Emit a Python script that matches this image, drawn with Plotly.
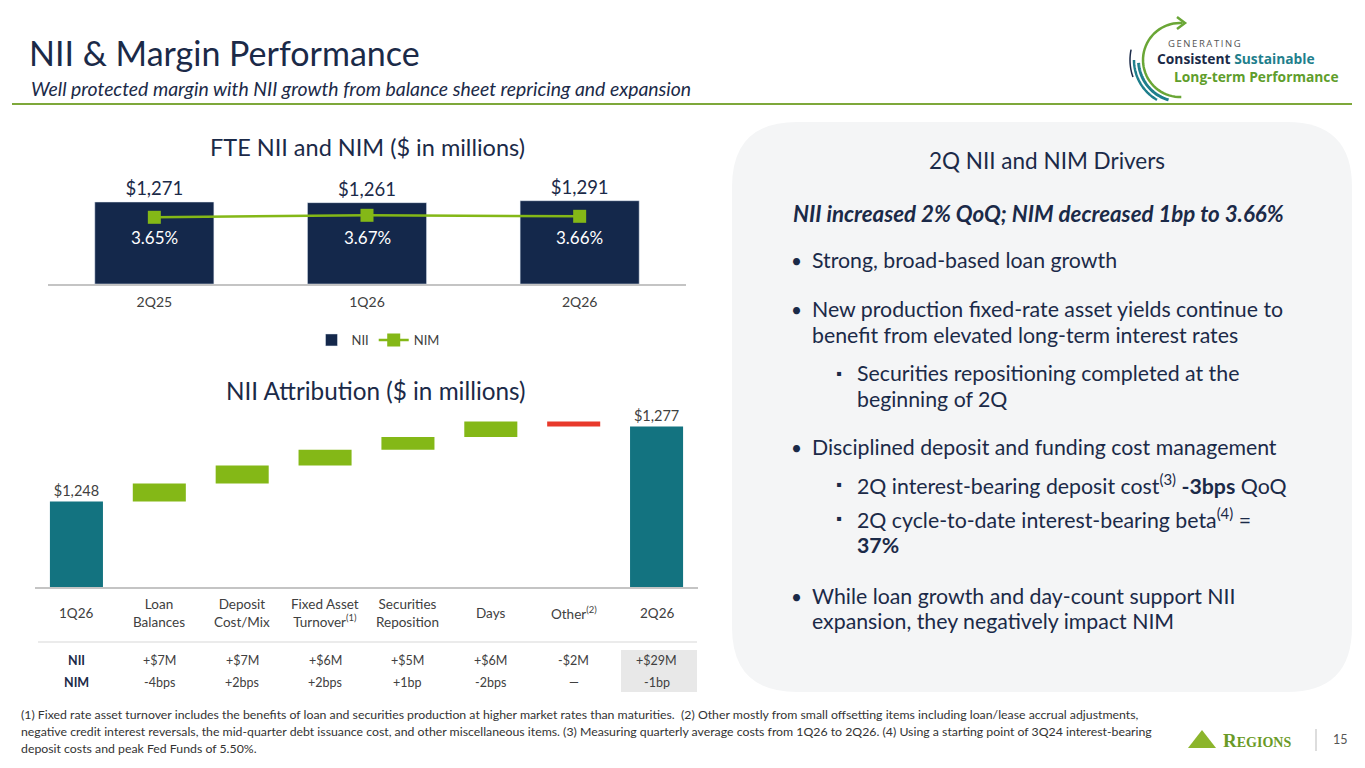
import numpy as np
import plotly.graph_objects as go

W, H = 1365, 768

# ---------------- data
quarters = ["2Q25", "1Q26", "2Q26"]
nii = [1271, 1261, 1291]
nim = [3.65, 3.67, 3.66]

wf_cats = ["1Q26", "Loan<br>Balances", "Deposit<br>Cost/Mix", "Fixed Asset<br>Turnover<sup>(1)</sup>",
           "Securities<br>Reposition", "Days", "Other<sup>(2)</sup>", "2Q26"]
nii_start = 1248
nii_deltas = [7, 7, 6, 5, 6, -2]
nim_bps = [-4, 2, 2, 1, -2, 0]

# ---------------- colors / fonts
navy = "#1b2a48"
barnavy = "#14284b"
green = "#84b817"
teal = "#137380"
red = "#e8392b"
grey = "#404040"
FONT = "Lato"


def X(px):
    return px / W


def Y(py):
    return 1 - py / H


nii_end = nii_start + sum(nii_deltas)


def fmt_m(d):
    return f"+${d}M" if d >= 0 else f"-${-d}M"


def fmt_bp(b):
    if b == 0:
        return "\u2014"
    unit = "bp" if abs(b) == 1 else "bps"
    return f"{b:+d}{unit}"


def txt(px, py, text, size, color=navy, anchor="center", family=FONT):
    # paper-positioned text, placed in slide pixels
    return dict(x=X(px), y=Y(py), xref="paper", yref="paper", xanchor=anchor, yanchor="middle",
                showarrow=False, text=text, font=dict(size=size, color=color, family=family))


fig = go.Figure()

# top chart: NII bars + NIM line
fig.add_trace(go.Bar(
    x=quarters, y=nii, name="NII", marker_color=barnavy,
    texttemplate="$%{y:,}", textposition="outside",
    textfont=dict(size=18.5, color=navy, family=FONT),
    cliponaxis=False, xaxis="x", yaxis="y"))
fig.add_trace(go.Scatter(
    x=quarters, y=nim, name="NIM", mode="lines+markers",
    line=dict(color=green, width=2.5),
    marker=dict(symbol="square", size=13, color=green),
    xaxis="x", yaxis="y2"))

# waterfall
wf_text = [f"${nii_start:,}"] + [""] * len(nii_deltas) + [f"${nii_end:,}"]
fig.add_trace(go.Waterfall(
    x=wf_cats, y=[nii_start] + nii_deltas + [0],
    measure=["absolute"] + ["relative"] * len(nii_deltas) + ["total"],
    text=wf_text, textposition="outside", cliponaxis=False,
    textfont=dict(size=14.5, color=grey, family=FONT),
    increasing=dict(marker=dict(color=green)),
    decreasing=dict(marker=dict(color=red)),
    totals=dict(marker=dict(color=teal)),
    connector=dict(visible=False), showlegend=False,
    xaxis="x2", yaxis="y3"))

ann = []

# NIM labels inside bars
for q, v in zip(quarters, nim):
    ann.append(dict(x=q, xref="x", y=Y(238), yref="paper", yanchor="middle", text=f"{v:.2f}%",
                    showarrow=False, font=dict(size=17, color="white", family=FONT)))

# waterfall category labels
for i, c in enumerate(wf_cats):
    ann.append(dict(x=i, xref="x2", y=Y(613), yref="paper", text=c, showarrow=False,
                    yanchor="middle", font=dict(size=13.5, color=grey, family=FONT)))

# table under waterfall
nii_row = [fmt_m(d) for d in nii_deltas] + [fmt_m(sum(nii_deltas))]
nim_row = [fmt_bp(b) for b in nim_bps] + [fmt_bp(sum(nim_bps))]
for lab, py in (("NII", 660), ("NIM", 682)):
    ann.append(dict(x=0, xref="x2", y=Y(py), yref="paper", yanchor="middle", text=f"<b>{lab}</b>",
                    showarrow=False, font=dict(size=12.5, color=navy, family=FONT)))
for i, (a, b) in enumerate(zip(nii_row, nim_row)):
    ann.append(dict(x=i + 1, xref="x2", y=Y(660), yref="paper", yanchor="middle", text=a,
                    showarrow=False, font=dict(size=12.5, color=grey, family=FONT)))
    ann.append(dict(x=i + 1, xref="x2", y=Y(682), yref="paper", yanchor="middle", text=b,
                    showarrow=False, font=dict(size=12.5, color=grey, family=FONT)))

# chart titles
ann.append(txt(367, 147, "FTE NII and NIM ($ in millions)", 23.5))
ann.append(txt(376, 390, "NII Attribution ($ in millions)", 24.3))

# header
ann.append(txt(27, 53, "NII & Margin Performance", 34, anchor="left"))
ann.append(txt(29, 88, "<i>Well protected margin with NII growth from balance sheet repricing and expansion</i>",
               19.4, anchor="left"))

# right panel text
ann.append(txt(1047, 160, "2Q NII and NIM Drivers", 22.5))
ann.append(txt(791, 213, "<b><i>NII increased 2% QoQ; NIM decreased 1bp to 3.66%</i></b>", 22.3, anchor="left"))

panel_lines = [
    (1, 260, "Strong, broad-based loan growth"),
    (1, 309, "New production fixed-rate asset yields continue to"),
    (0, 335, "benefit from elevated long-term interest rates"),
    (2, 373, "Securities repositioning completed at the"),
    (3, 399, "beginning of 2Q"),
    (1, 447, "Disciplined deposit and funding cost management"),
    (2, 484, "2Q interest-bearing deposit cost<sup>(3)</sup> <b>-3bps</b> QoQ"),
    (2, 518, "2Q cycle-to-date interest-bearing beta<sup>(4)</sup> ="),
    (3, 545, "<b>37%</b>"),
    (1, 596, "While loan growth and day-count support NII"),
    (0, 621, "expansion, they negatively impact NIM"),
]
for lvl, py, line in panel_lines:
    tx = 855 if lvl >= 2 else 810
    if lvl == 1:
        ann.append(txt(796, py, "\u2022", 19))
    if lvl == 2:
        ann.append(txt(839, py, "\u25aa", 15))
    ann.append(txt(tx, py, line, 21.3, anchor="left"))

# footnotes
foot = [
    "(1) Fixed rate asset turnover includes the benefits of loan and securities production at higher market rates than maturities.  "
    "(2) Other mostly from small offsetting items including loan/lease accrual adjustments,",
    "negative credit interest reversals, the mid-quarter debt issuance cost, and other miscellaneous items. "
    "(3) Measuring quarterly average costs from 1Q26 to 2Q26. (4) Using a starting point of 3Q24 interest-bearing",
    "deposit costs and peak Fed Funds of 5.50%.",
]
for i, t in enumerate(foot):
    ann.append(txt(19, 714 + 17 * i, t, 12.3, color="#333333", anchor="left"))

# logo text (top right)
ann.append(txt(1166, 44, "\u2009".join("GENERATING"), 9.5, color="#555555", anchor="left", family="Open Sans"))
ann.append(txt(1155, 59, "<b>Consistent</b> <span style='color:#1f7f8c'><b>Sustainable</b></span>",
               13.8, anchor="left", family="Open Sans"))
ann.append(txt(1172, 77, "<b>Long-term Performance</b>", 13.8, color="#5f9e2c", anchor="left", family="Open Sans"))

# Regions wordmark + page number
ann.append(txt(1221, 740, "<b>R<span style='font-size:14px'>EGIONS</span></b>", 19,
               color="#6a9a26", anchor="left", family="Liberation Serif"))
ann.append(txt(1340, 739, "15", 12.5, color="#555555"))

shapes = []
# header rule
shapes.append(dict(type="line", xref="paper", yref="paper", x0=X(12), x1=X(1352), y0=Y(104), y1=Y(104),
                   line=dict(color="#7ea83a", width=2)))


# rounded panel
def rrect(x0, y0, x1, y1, r):
    return (f"M {X(x0 + r)} {Y(y0)} L {X(x1 - r)} {Y(y0)} Q {X(x1)} {Y(y0)} {X(x1)} {Y(y0 + r)} "
            f"L {X(x1)} {Y(y1 - r)} Q {X(x1)} {Y(y1)} {X(x1 - r)} {Y(y1)} "
            f"L {X(x0 + r)} {Y(y1)} Q {X(x0)} {Y(y1)} {X(x0)} {Y(y1 - r)} "
            f"L {X(x0)} {Y(y0 + r)} Q {X(x0)} {Y(y0)} {X(x0 + r)} {Y(y0)} Z")


shapes.append(dict(type="path", xref="paper", yref="paper", path=rrect(732, 122, 1352, 692, 65),
                   fillcolor="#f4f5f6", line=dict(width=0), layer="below"))
# table separator + highlight
shapes.append(dict(type="line", xref="paper", yref="paper", x0=X(38), x1=X(697), y0=Y(642), y1=Y(642),
                   line=dict(color="#e4e4e4", width=1.5)))
shapes.append(dict(type="rect", xref="paper", yref="paper", x0=X(621), x1=X(697), y0=Y(650), y1=Y(692),
                   fillcolor="#e8e8e8", line=dict(width=0), layer="below"))


# logo arcs
def arc(cx, cy, r, a0, a1, n=40):
    t = np.radians(np.linspace(a0, a1, n))
    pts = [f"{X(cx + r * np.cos(a))} {Y(cy + r * np.sin(a))}" for a in t]
    return "M " + " L ".join(pts)


shapes.append(dict(type="path", xref="paper", yref="paper", path=arc(1180, 60, 37, 274, 88),
                   line=dict(color="#6aa636", width=2.5)))
shapes.append(dict(type="path", xref="paper", yref="paper",
                   path=f"M {X(1177)} {Y(17)} L {X(1185)} {Y(23)} L {X(1177)} {Y(29)}",
                   line=dict(color="#6aa636", width=2.5)))
shapes.append(dict(type="path", xref="paper", yref="paper", path=arc(1180, 60, 41.5, 176, 106),
                   line=dict(color="#1f7f8c", width=3)))
shapes.append(dict(type="path", xref="paper", yref="paper", path=arc(1180, 60, 46, 180, 120),
                   line=dict(color="#1f7f8c", width=2.5)))
shapes.append(dict(type="path", xref="paper", yref="paper", path=arc(1180, 60, 50, 192, 160),
                   line=dict(color=navy, width=1.5)))

# regions triangle + divider
shapes.append(dict(type="path", xref="paper", yref="paper",
                   path=f"M {X(1188)} {Y(748)} L {X(1202)} {Y(730)} L {X(1216)} {Y(748)} Z",
                   fillcolor="#8cb52c", line=dict(width=0)))
shapes.append(dict(type="line", xref="paper", yref="paper", x0=X(1316), x1=X(1316), y0=Y(729), y1=Y(751),
                   line=dict(color="#bbbbbb", width=1)))

fig.update_layout(
    width=W, height=H, margin=dict(l=0, r=0, t=0, b=0),
    paper_bgcolor="white", plot_bgcolor="rgba(0,0,0,0)",
    font=dict(family=FONT, color=grey),
    bargap=0.44, waterfallgap=0.36,
    xaxis=dict(domain=[X(48), X(686)], anchor="y", showline=True, linecolor="#c4c4c4", linewidth=1.5,
               showgrid=False, ticks="", tickfont=dict(size=14, color=grey), ticklabelstandoff=4),
    yaxis=dict(domain=[Y(284), Y(170)], range=[0, 1767], visible=False),
    yaxis2=dict(overlaying="y", range=[2.983, 4.123], visible=False),
    xaxis2=dict(domain=[X(35), X(698)], anchor="y3", showline=True, linecolor="#c4c4c4", linewidth=1.5,
                showgrid=False, ticks="", showticklabels=False),
    yaxis3=dict(domain=[Y(587), Y(395)], range=[1215, 1289.2], visible=False),
    legend=dict(orientation="h", x=X(378), xanchor="center", y=Y(340), yanchor="middle",
                font=dict(size=13, color=grey, family=FONT), bgcolor="rgba(0,0,0,0)"),
    annotations=ann, shapes=shapes,
)

# page body has a default 8px margin; drop it so the slide sits at the window origin
fig.write_html("out.html", config={"displayModeBar": False},
               post_script="document.body.style.margin='0';")
